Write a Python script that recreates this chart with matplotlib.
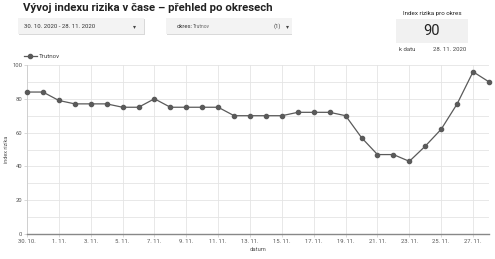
import numpy as np
import pandas as pd
import matplotlib
matplotlib.use("Agg")
import matplotlib.pyplot as plt
import matplotlib.dates as mdates
from matplotlib.patches import Rectangle
from matplotlib.ticker import FuncFormatter, MultipleLocator

# data
start_date = "2020-10-30"
district = "Trutnov"
risk_index = [84, 84, 79, 77, 77, 77, 75, 75, 80, 75, 75, 75, 75, 70, 70,
              70, 70, 72, 72, 72, 70, 57, 47, 47, 43, 52, 62, 77, 96, 90]
y_ticks = [0, 20, 40, 60, 80, 100]

dates = pd.date_range(start_date, periods=len(risk_index), freq="D")

plt.rcParams['font.family'] = ['Roboto', 'DejaVu Sans']

W, H = 495, 259
fig = plt.figure(figsize=(W / 100, H / 100), dpi=100)
fig.patch.set_facecolor('white')


def fx(px):
    return px / W


def fy(py):
    return 1 - py / H


def box(x0, y0, x1, y1, color, shadow=False):
    if shadow:
        fig.add_artist(Rectangle((fx(x0 + 0.5), fy(y1 + 1.2)), fx(x1 - x0), (y1 - y0) / H,
                                 transform=fig.transFigure, facecolor='#d0d0d0',
                                 edgecolor='none', alpha=0.8, zorder=0))
    fig.add_artist(Rectangle((fx(x0), fy(y1)), fx(x1 - x0), (y1 - y0) / H,
                             transform=fig.transFigure, facecolor=color,
                             edgecolor='none', zorder=1))


# header
fig.text(fx(23), fy(8), "Vývoj indexu rizika v čase – přehled po okresech",
         fontsize=8.2, fontweight='bold', color='#222222', va='center', ha='left')

box(18, 18, 144, 34, '#f3f3f3', shadow=True)
fig.text(fx(24), fy(26.5), "30. 10. 2020 - 28. 11. 2020", fontsize=4.3,
         color='#333333', va='center', ha='left')
fig.text(fx(134), fy(26.5), "▾", fontsize=4.3, color='#444444', va='center',
         ha='center', family='DejaVu Sans')

box(166, 18, 292, 34, '#f3f3f3', shadow=True)
fig.text(fx(177), fy(26.5), "okres:", fontsize=4.3, color='#333333',
         va='center', ha='left')
fig.text(fx(193), fy(26.5), district, fontsize=3.5, color='#666666',
         va='center', ha='left')
fig.text(fx(277), fy(26.5), "(1)", fontsize=4.3, color='#444444',
         va='center', ha='center')
fig.text(fx(287), fy(26.5), "▾", fontsize=4.3, color='#444444',
         va='center', ha='center', family='DejaVu Sans')

fig.text(fx(432), fy(13), "Index rizika pro okres", fontsize=4.5,
         color='#222222', va='center', ha='center')
box(396, 19, 468, 43, '#f1f1f1', shadow=False)
fig.text(fx(432), fy(31), str(risk_index[-1]), fontsize=10.5,
         color='#222222', va='center', ha='center')
fig.text(fx(399), fy(49), "k datu", fontsize=4.3, color='#444444',
         va='center', ha='left')
fig.text(fx(466), fy(49), dates[-1].strftime("%d. %m. %Y"), fontsize=4.3,
         color='#444444', va='center', ha='right')

# plot
ax = fig.add_axes([fx(27), fy(234), fx(489 - 27), (234 - 65) / H])
ax.plot(dates, risk_index, color='#5a5a5a', linewidth=0.9, marker='o',
        markersize=3, label=district, zorder=3, clip_on=False)

ax.set_xlim(dates[0], dates[-1])
ax.set_ylim(0, 100)
ax.set_xticks(dates[::2])
ax.xaxis.set_major_formatter(FuncFormatter(
    lambda v, pos: "{}. {}.".format(mdates.num2date(v).day, mdates.num2date(v).month)))
ax.set_yticks(y_ticks)
ax.yaxis.set_minor_locator(MultipleLocator(10))

ax.grid(True, which='both', color='#e4e4e4', linewidth=0.6)
ax.set_axisbelow(True)
for s in ['top', 'right']:
    ax.spines[s].set_visible(False)
ax.spines['left'].set_color('#cccccc')
ax.spines['left'].set_linewidth(0.6)
ax.spines['bottom'].set_color('#888888')
ax.spines['bottom'].set_linewidth(1.0)

ax.tick_params(axis='both', which='both', length=2, width=0.4, colors='#bbbbbb',
               labelsize=4.2, labelcolor='#555555', pad=1.5)
ax.tick_params(axis='y', which='minor', length=0)

ax.set_xlabel("datum", fontsize=4.2, color='#555555', labelpad=2)
ax.set_ylabel("index rizika", fontsize=4.0, color='#555555', labelpad=2.5)

fig.legend(loc='center left', bbox_to_anchor=(fx(24), fy(56)), frameon=False,
           fontsize=4.5, handlelength=2.0, handletextpad=0.4, labelcolor='#444444',
           borderaxespad=0, borderpad=0)

fig.savefig("out.png", dpi=100, facecolor='white')
